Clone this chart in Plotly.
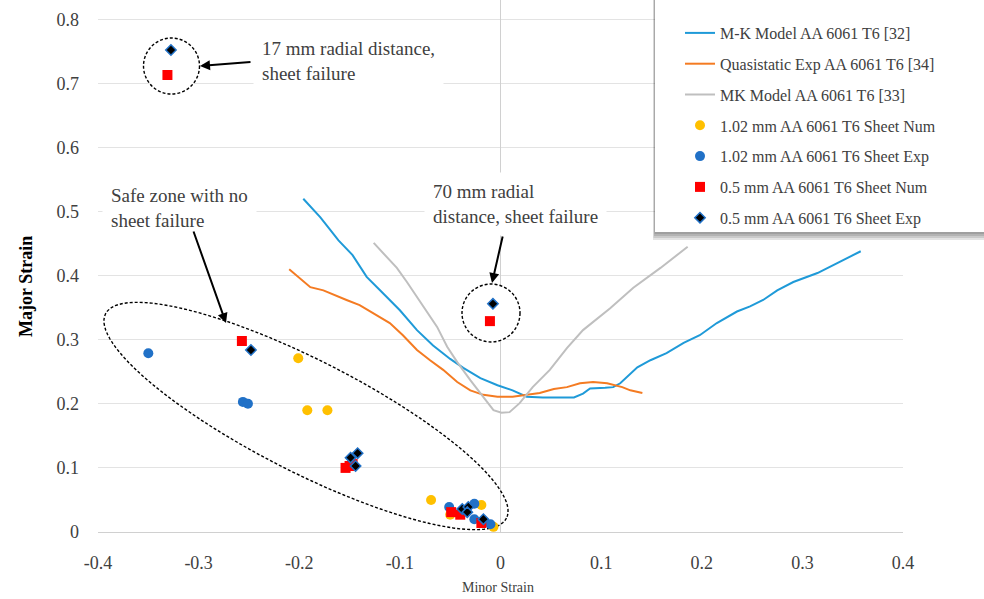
import math
import plotly.graph_objects as go

# ---- forming-limit curves ----
mk32_x = [-0.196, -0.179, -0.169, -0.161, -0.147, -0.133, -0.117, -0.100, -0.083, -0.067,
          -0.050, -0.037, -0.020, -0.003, 0.012, 0.026, 0.042, 0.062, 0.073, 0.082,
          0.089, 0.104, 0.112, 0.119, 0.126, 0.136, 0.149, 0.165, 0.182, 0.198,
          0.215, 0.235, 0.248, 0.261, 0.275, 0.291, 0.315, 0.331, 0.358]
mk32_y = [0.520, 0.491, 0.471, 0.455, 0.432, 0.398, 0.373, 0.346, 0.315, 0.291,
          0.270, 0.256, 0.240, 0.229, 0.221, 0.211, 0.210, 0.210, 0.210, 0.216,
          0.224, 0.225, 0.226, 0.232, 0.242, 0.257, 0.268, 0.279, 0.295, 0.307,
          0.326, 0.344, 0.352, 0.362, 0.377, 0.390, 0.404, 0.417, 0.438]

qs_x = [-0.210, -0.189, -0.176, -0.166, -0.153, -0.140, -0.128, -0.120, -0.110, -0.097,
        -0.083, -0.070, -0.057, -0.043, -0.030, -0.017, -0.003, 0.012, 0.026, 0.039,
        0.053, 0.066, 0.079, 0.092, 0.106, 0.121, 0.129, 0.141]
qs_y = [0.410, 0.382, 0.377, 0.370, 0.362, 0.354, 0.343, 0.335, 0.326, 0.307,
        0.284, 0.268, 0.253, 0.234, 0.221, 0.214, 0.211, 0.211, 0.214, 0.217,
        0.223, 0.226, 0.232, 0.234, 0.232, 0.226, 0.221, 0.217]

mk33_x = [-0.126, -0.113, -0.103, -0.093, -0.083, -0.073, -0.063, -0.053, -0.043, -0.030,
          -0.017, -0.007, 0.001, 0.009, 0.019, 0.032, 0.049, 0.066, 0.082, 0.109,
          0.132, 0.159, 0.186]
mk33_y = [0.451, 0.429, 0.412, 0.390, 0.367, 0.343, 0.320, 0.289, 0.265, 0.237,
          0.211, 0.190, 0.186, 0.187, 0.201, 0.226, 0.253, 0.287, 0.315, 0.349,
          0.381, 0.412, 0.445]

# ---- sheet measurements / simulations ----
num102_x = [-0.201, -0.192, -0.172, -0.069, -0.050, -0.019, -0.007]
num102_y = [0.271, 0.190, 0.190, 0.050, 0.027, 0.042, 0.008]

exp102_x = [-0.350, -0.256, -0.251, -0.051, -0.026, -0.026, -0.010]
exp102_y = [0.279, 0.203, 0.200, 0.039, 0.044, 0.020, 0.012]

num05_x = [-0.331, -0.0105, -0.257, -0.154, -0.150, -0.147, -0.049, -0.040, -0.019]
num05_y = [0.713, 0.329, 0.298, 0.100, 0.103, 0.106, 0.031, 0.027, 0.014]

exp05_x = [-0.3275, -0.0075, -0.248, -0.149, -0.142, -0.144, -0.038, -0.032, -0.033, -0.017]
exp05_y = [0.752, 0.356, 0.284, 0.116, 0.123, 0.103, 0.036, 0.039, 0.031, 0.020]

x_ticks = [-0.4, -0.3, -0.2, -0.1, 0, 0.1, 0.2, 0.3, 0.4]
x_labels = ["-0.4", "-0.3", "-0.2", "-0.1", "0", "0.1", "0.2", "0.3", "0.4"]
y_ticks = [0, 0.1, 0.2, 0.3, 0.4, 0.5, 0.6, 0.7, 0.8]
y_labels = ["0", "0.1", "0.2", "0.3", "0.4", "0.5", "0.6", "0.7", "0.8"]

# ---- page geometry ----
W, H = 984, 599
L, R, T, B = 98, 903, 0, 532          # plot area edges in px
XR = [-0.4, 0.4]
YR = [0.0, 0.83]

FONT = "Liberation Serif"
TXT = "#404040"


def px_x(px):
    return XR[0] + (px - L) / (R - L) * (XR[1] - XR[0])


def px_y(py):
    return YR[0] + (B - py) / (B - T) * (YR[1] - YR[0])


def pap_x(px):
    return (px - L) / (R - L)


def pap_y(py):
    return (B - py) / (B - T)


fig = go.Figure()

line_w = 2
fig.add_trace(go.Scatter(x=mk32_x, y=mk32_y, mode="lines", name="M-K Model AA 6061 T6 [32]",
                         line=dict(color="#1f9ad8", width=line_w), legendgroup="a"))
fig.add_trace(go.Scatter(x=qs_x, y=qs_y, mode="lines", name="Quasistatic Exp AA 6061 T6 [34]",
                         line=dict(color="#f47b22", width=line_w), legendgroup="b"))
fig.add_trace(go.Scatter(x=mk33_x, y=mk33_y, mode="lines", name="MK Model AA 6061 T6 [33]",
                         line=dict(color="#bfbfbf", width=line_w), legendgroup="c"))
fig.add_trace(go.Scatter(x=num102_x, y=num102_y, mode="markers", name="1.02 mm AA 6061 T6 Sheet Num",
                         marker=dict(symbol="circle", size=10, color="#ffc000"), legendgroup="d"))
fig.add_trace(go.Scatter(x=exp102_x, y=exp102_y, mode="markers", name="1.02 mm AA 6061 T6 Sheet Exp",
                         marker=dict(symbol="circle", size=10, color="#2171c7"), legendgroup="e"))
fig.add_trace(go.Scatter(x=num05_x, y=num05_y, mode="markers", name="0.5 mm AA 6061 T6 Sheet Num",
                         marker=dict(symbol="square", size=10, color="#ff0000"), legendgroup="f"))
fig.add_trace(go.Scatter(x=exp05_x, y=exp05_y, mode="markers", name="0.5 mm AA 6061 T6 Sheet Exp",
                         marker=dict(symbol="diamond", size=8, color="#000000",
                                     line=dict(color="#2171c7", width=1.5)), legendgroup="g"))

shapes = []

# dashed ellipse around the safe zone (rotated, built as a path)
cx, cy, ea, eb, ang = 306, 416, 225, 56, math.radians(27)
pts = []
for i in range(121):
    t = 2 * math.pi * i / 120
    px = cx + ea * math.cos(t) * math.cos(ang) - eb * math.sin(t) * math.sin(ang)
    py = cy + ea * math.cos(t) * math.sin(ang) + eb * math.sin(t) * math.cos(ang)
    pts.append(f"{px_x(px):.5f},{px_y(py):.5f}")
shapes.append(dict(type="path", xref="x", yref="y", path="M" + " L".join(pts) + " Z",
                   line=dict(color="black", width=1.4, dash="3px,2px"), layer="between"))

# dashed circles around the failure points
for (ccx, ccy, r) in [(171.5, 66, 28), (491, 313, 29)]:
    shapes.append(dict(type="circle", xref="x", yref="y",
                       x0=px_x(ccx - r), x1=px_x(ccx + r), y0=px_y(ccy + r), y1=px_y(ccy - r),
                       line=dict(color="black", width=1.4, dash="3px,2px"),
                       fillcolor="white", layer="between"))

# legend panel with a soft drop shadow
LX0, LX1, LY0, LY1 = 655, 990, 0, 232
for k in (2, 4, 6, 8):
    shapes.append(dict(type="rect", xref="paper", yref="paper",
                       x0=pap_x(LX0 - k / 4), x1=pap_x(LX1 + k), y0=pap_y(LY1 + k), y1=pap_y(LY0 - 5),
                       line=dict(width=0), fillcolor="rgba(0,0,0,0.11)", layer="above"))
shapes.append(dict(type="rect", xref="paper", yref="paper",
                   x0=pap_x(LX0), x1=pap_x(LX1), y0=pap_y(LY1), y1=pap_y(LY0 - 5),
                   line=dict(width=0), fillcolor="white", layer="above"))

annotations = []

# callout texts
for (txt, left, mid) in [
    ("17 mm radial distance,<br>sheet failure", 262, 60.5),
    ("Safe zone with no<br>sheet failure", 111, 208.5),
    ("70 mm radial<br>distance, sheet failure", 433, 204),
]:
    pad = 8
    annotations.append(dict(text=txt, xref="paper", yref="paper", x=pap_x(left - pad - 1),
                            y=pap_y(mid), xanchor="left", yanchor="middle", align="left",
                            showarrow=False, bgcolor="white", borderpad=pad,
                            font=dict(family=FONT, size=19, color=TXT)))

# arrows from the callouts to the marked regions
for (tx, ty, hx, hy) in [(252, 62, 200, 66), (193, 230, 226, 323), (503, 235, 492, 283)]:
    annotations.append(dict(text="", x=px_x(hx), y=px_y(hy), xref="x", yref="y",
                            ax=px_x(tx), ay=px_y(ty), axref="x", ayref="y",
                            showarrow=True, arrowhead=2, arrowsize=1, arrowwidth=2,
                            arrowcolor="black", standoff=0, startstandoff=0))

# axis titles
annotations.append(dict(text="<b>Major Strain</b>", xref="paper", yref="paper",
                        x=pap_x(26), y=pap_y(287), textangle=-90, showarrow=False,
                        xanchor="center", yanchor="middle",
                        font=dict(family=FONT, size=18, color="black")))
annotations.append(dict(text="Minor Strain", xref="paper", yref="paper",
                        x=pap_x(498), y=pap_y(588), showarrow=False,
                        xanchor="center", yanchor="middle",
                        font=dict(family=FONT, size=14, color=TXT)))

fig.update_layout(
    width=W, height=H, autosize=False,
    margin=dict(l=L, r=W - R, t=T, b=H - B, pad=0),
    paper_bgcolor="white", plot_bgcolor="white",
    font=dict(family=FONT, color=TXT),
    shapes=shapes, annotations=annotations,
    showlegend=True,
    legend=dict(x=pap_x(680), y=pap_y(16), xanchor="left", yanchor="top",
                bgcolor="rgba(0,0,0,0)", borderwidth=0,
                font=dict(family=FONT, size=16, color=TXT),
                tracegroupgap=7, itemwidth=30),
    xaxis=dict(range=XR, tickmode="array", tickvals=x_ticks, ticktext=x_labels,
               showgrid=False, zeroline=True, zerolinecolor="#d0d0d0", zerolinewidth=1,
               showline=False, ticks="", ticklabelstandoff=18,
               tickfont=dict(family=FONT, size=18, color=TXT), fixedrange=True),
    yaxis=dict(range=YR, tickmode="array", tickvals=y_ticks, ticktext=y_labels,
               showgrid=True, gridcolor="#e3e3e3", gridwidth=1,
               zeroline=True, zerolinecolor="#d0d0d0", zerolinewidth=1,
               showline=False, ticks="", ticklabelstandoff=18,
               tickfont=dict(family=FONT, size=18, color=TXT), fixedrange=True),
)

fig.write_html("out.html")
